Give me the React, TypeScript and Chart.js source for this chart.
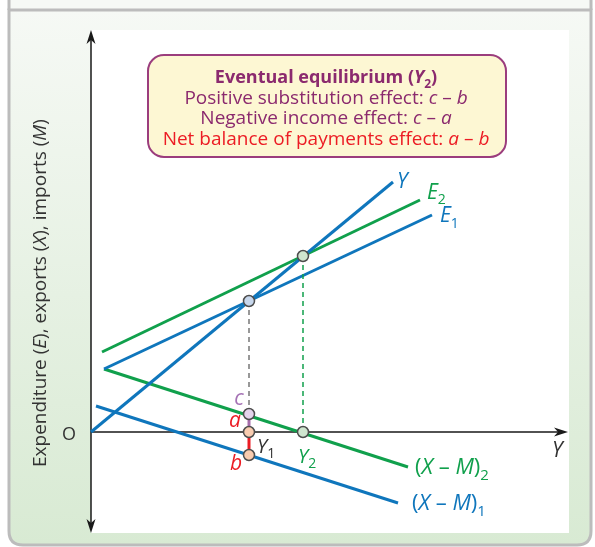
import React, { useEffect, useRef } from "react";
import { Chart, registerables } from "chart.js";

Chart.register(...registerables);

// ---- Data (chart units; origin O = 0,0) ----
const yLineX = [0, 60.4];
const yLineY = [0, 50];
const e1X = [2.6, 68.2];
const e1Y = [12.6, 43.4];
const e2X = [2.2, 65.8];
const e2Y = [16, 46.4];
const xm2X = [2.6, 63.4];
const xm2Y = [12.6, -7];
const xm1X = [1, 61.4];
const xm1Y = [5.2, -14.2];

// points: E1∩Y, E2∩Y, c, a, b, Y2
const pointNames = ["eq1", "eq2", "c", "a", "b", "Y2"];
const pointX = [31.6, 42.4, 31.6, 31.6, 31.6, 42.4];
const pointY = [26.2, 35.2, 3.6, 0, -4.6, 0];

const axisXMax = 95.4;
const axisYTop = 80.4;
const axisYBottom = -20.2;

const BLUE = "#0f76bc";
const GREEN = "#10a04c";
const RED = "#ec1c24";
const PURPLE = "#8b2a6e";
const LIGHTPURPLE = "#a572b5";
const DARK = "#333333";
const FONT = "'Open Sans', 'Liberation Sans', Arial, sans-serif";

type Seg = { t: string; i?: boolean; b?: boolean; sub?: boolean; c?: string };

function drawRich(
  ctx: CanvasRenderingContext2D,
  segs: Seg[],
  x: number,
  y: number,
  size: number,
  color: string,
  align: "left" | "center"
) {
  const font = (s: Seg) =>
    `${s.i ? "italic " : ""}${s.b ? "bold " : ""}${s.sub ? Math.round(size * 0.68) : size}px ${FONT}`;
  let w = 0;
  for (const s of segs) {
    ctx.font = font(s);
    w += ctx.measureText(s.t).width;
  }
  let cx = align === "center" ? x - w / 2 : x;
  ctx.textBaseline = "alphabetic";
  ctx.textAlign = "left";
  for (const s of segs) {
    ctx.font = font(s);
    ctx.fillStyle = s.c || color;
    ctx.fillText(s.t, cx, y + (s.sub ? size * 0.28 : 0));
    cx += ctx.measureText(s.t).width;
  }
}

const pts = (xs: number[], ys: number[]) => xs.map((x, i) => ({ x, y: ys[i] }));

const framePlugin = {
  id: "frame",
  beforeDraw(chart: any) {
    const ctx: CanvasRenderingContext2D = chart.ctx;
    const W = chart.width;
    const H = chart.height;
    ctx.save();
    ctx.fillStyle = "#ffffff";
    ctx.fillRect(0, 0, W, H);
    ctx.fillStyle = "#f6f9f5";
    ctx.fillRect(9, 0, 582, 10);
    const L = 9, R = 591, T = 10, B = 545, r = 14;
    const g = ctx.createLinearGradient(0, T, 0, B);
    g.addColorStop(0, "#f6f9f5");
    g.addColorStop(1, "#d8ead3");
    ctx.beginPath();
    ctx.moveTo(L, T);
    ctx.lineTo(R, T);
    ctx.lineTo(R, B - r);
    ctx.quadraticCurveTo(R, B, R - r, B);
    ctx.lineTo(L + r, B);
    ctx.quadraticCurveTo(L, B, L, B - r);
    ctx.closePath();
    ctx.fillStyle = g;
    ctx.fill();
    ctx.strokeStyle = "#bcbcbc";
    ctx.lineWidth = 3;
    ctx.stroke();
    ctx.beginPath();
    ctx.moveTo(L, 0);
    ctx.lineTo(L, T);
    ctx.moveTo(R, 0);
    ctx.lineTo(R, T);
    ctx.stroke();
    ctx.fillStyle = "#ffffff";
    ctx.fillRect(91, 30, 478, 503);
    ctx.restore();
  },
  beforeDatasetsDraw(chart: any) {
    const ctx: CanvasRenderingContext2D = chart.ctx;
    const xs = chart.scales.x;
    const ys = chart.scales.y;
    const ox = xs.getPixelForValue(0);
    const oy = ys.getPixelForValue(0);
    const xEnd = xs.getPixelForValue(axisXMax);
    const yTop = ys.getPixelForValue(axisYTop);
    const yBot = ys.getPixelForValue(axisYBottom);
    ctx.save();
    ctx.strokeStyle = "#1a1a1a";
    ctx.fillStyle = "#1a1a1a";
    ctx.lineWidth = 1.5;
    ctx.beginPath();
    ctx.moveTo(ox, yTop + 8);
    ctx.lineTo(ox, yBot - 8);
    ctx.moveTo(ox, oy);
    ctx.lineTo(xEnd - 8, oy);
    ctx.stroke();
    const head = (tx: number, ty: number, dx: number, dy: number) => {
      const len = 14, hw = 4.5;
      const px = -dy, py = dx;
      ctx.beginPath();
      ctx.moveTo(tx, ty);
      ctx.lineTo(tx - dx * len + px * hw, ty - dy * len + py * hw);
      ctx.lineTo(tx - dx * (len - 4), ty - dy * (len - 4));
      ctx.lineTo(tx - dx * len - px * hw, ty - dy * len - py * hw);
      ctx.closePath();
      ctx.fill();
    };
    head(ox, yTop, 0, -1);
    head(ox, yBot, 0, 1);
    head(xEnd, oy, 1, 0);
    ctx.restore();
  },
  afterDatasetsDraw(chart: any) {
    const ctx: CanvasRenderingContext2D = chart.ctx;
    const xs = chart.scales.x;
    const ys = chart.scales.y;
    const P = (x: number, y: number) => [xs.getPixelForValue(x), ys.getPixelForValue(y)];
    ctx.save();

    // Info box
    const bx = 148, by = 55, bw = 358, bh = 102, br = 16;
    ctx.beginPath();
    ctx.roundRect(bx, by, bw, bh, br);
    ctx.fillStyle = "#fdf7d3";
    ctx.fill();
    ctx.strokeStyle = "#9b3d7d";
    ctx.lineWidth = 2;
    ctx.stroke();
    const cx = bx + bw / 2 - 1;
    drawRich(ctx, [
      { t: "Eventual equilibrium (", b: true },
      { t: "Y", b: true, i: true },
      { t: "2", b: true, sub: true },
      { t: ")", b: true },
    ], cx, 83, 18, PURPLE, "center");
    drawRich(ctx, [
      { t: "Positive substitution effect: " },
      { t: "c", i: true },
      { t: " – " },
      { t: "b", i: true },
    ], cx, 103.5, 19, PURPLE, "center");
    drawRich(ctx, [
      { t: "Negative income effect: " },
      { t: "c", i: true },
      { t: " – " },
      { t: "a", i: true },
    ], cx, 124, 19, PURPLE, "center");
    drawRich(ctx, [
      { t: "Net balance of payments effect: " },
      { t: "a", i: true },
      { t: " – " },
      { t: "b", i: true },
    ], cx, 144.5, 19, RED, "center");

    // Y-axis title (rotated), starting at the bottom
    ctx.save();
    ctx.translate(46, 467);
    ctx.rotate(-Math.PI / 2);
    drawRich(ctx, [
      { t: "Expenditure (" },
      { t: "E", i: true },
      { t: "), exports (" },
      { t: "X", i: true },
      { t: "), imports (" },
      { t: "M", i: true },
      { t: ")" },
    ], 0, 0, 19, DARK, "left");
    ctx.restore();

    // Origin label
    drawRich(ctx, [{ t: "O" }], 69, 439.5, 18, DARK, "center");

    // Line labels
    let p = P(61.2, 50.4);
    drawRich(ctx, [{ t: "Y", i: true }], p[0], p[1] + 7.5, 21, BLUE, "left");
    p = P(67.2, 48.2);
    drawRich(ctx, [{ t: "E", i: true }, { t: "2", sub: true }], p[0], p[1] + 7.5, 21, GREEN, "left");
    p = P(69.8, 43.5);
    drawRich(ctx, [{ t: "E", i: true }, { t: "1", sub: true }], p[0], p[1] + 7.5, 21, BLUE, "left");
    p = P(64.8, -6.8);
    drawRich(ctx, [{ t: "(" }, { t: "X", i: true }, { t: " – " }, { t: "M", i: true }, { t: ")" }, { t: "2", sub: true }], p[0], p[1] + 8, 22, GREEN, "left");
    p = P(64.2, -14);
    drawRich(ctx, [{ t: "(" }, { t: "X", i: true }, { t: " – " }, { t: "M", i: true }, { t: ")" }, { t: "1", sub: true }], p[0], p[1] + 8, 22, BLUE, "left");
    p = P(92.2, -3.4);
    drawRich(ctx, [{ t: "Y", i: true }], p[0], p[1] + 7.5, 21, DARK, "left");

    // point labels
    p = P(29.6, 6.4);
    drawRich(ctx, [{ t: "c", i: true }], p[0], p[1] + 5, 21, LIGHTPURPLE, "center");
    p = P(28.8, 2);
    drawRich(ctx, [{ t: "a", i: true }], p[0], p[1] + 5, 21, RED, "center");
    p = P(29, -6.6);
    drawRich(ctx, [{ t: "b", i: true }], p[0], p[1] + 5, 21, RED, "center");
    p = P(33.2, -2.6);
    drawRich(ctx, [{ t: "Y", i: true }, { t: "1", sub: true }], p[0], p[1] + 7.5, 20, DARK, "left");
    p = P(41.4, -4.6);
    drawRich(ctx, [{ t: "Y", i: true }, { t: "2", sub: true }], p[0], p[1] + 7.5, 20, GREEN, "left");

    ctx.restore();
  },
};

export default function App() {
  const ref = useRef<HTMLCanvasElement | null>(null);
  useEffect(() => {
    document.body.style.margin = "0";
    const canvas = ref.current!;
    const lineDs = (data: any[], color: string, order: number, extra: any = {}) => ({
      data,
      showLine: true,
      borderColor: color,
      borderWidth: 3,
      pointRadius: 0,
      pointHoverRadius: 0,
      fill: false,
      clip: false,
      order,
      ...extra,
    });
    const P = pts(pointX, pointY);
    const chart = new Chart(canvas, {
      type: "scatter",
      data: {
        datasets: [
          {
            data: P,
            showLine: false,
            pointRadius: 5.5,
            pointBorderWidth: 1.5,
            pointBorderColor: "#4d4d4d",
            pointBackgroundColor: ["#c7d7ec", "#cfe5cf", "#e4d4ec", "#f8ccb0", "#f8ccb0", "#cfe5cf"],
            clip: false,
            order: 0,
          } as any,
          lineDs([P[2], P[3]], "#a66cab", 1),
          lineDs([P[3], P[4]], RED, 1),
          lineDs([P[0], P[2]], "#777777", 2, { borderWidth: 1.5, borderDash: [5, 4] }),
          lineDs([P[1], P[5]], GREEN, 2, { borderWidth: 1.5, borderDash: [5, 4] }),
          lineDs(pts(yLineX, yLineY), BLUE, 3),
          lineDs(pts(e1X, e1Y), BLUE, 3),
          lineDs(pts(e2X, e2Y), GREEN, 3),
          lineDs(pts(xm2X, xm2Y), GREEN, 3),
          lineDs(pts(xm1X, xm1Y), BLUE, 3),
        ],
      },
      options: {
        animation: false,
        responsive: false,
        devicePixelRatio: 1,
        events: [],
        layout: { padding: 0, autoPadding: false },
        plugins: { legend: { display: false }, tooltip: { enabled: false } },
        scales: {
          x: { type: "linear", min: -18.2, max: 100.8, display: false },
          y: { type: "linear", min: -23, max: 86.4, display: false },
        },
      },
      plugins: [framePlugin],
    });
    return () => chart.destroy();
  }, []);
  return <canvas ref={ref} width={595} height={547} style={{ display: "block", width: 595, height: 547 }} />;
}
